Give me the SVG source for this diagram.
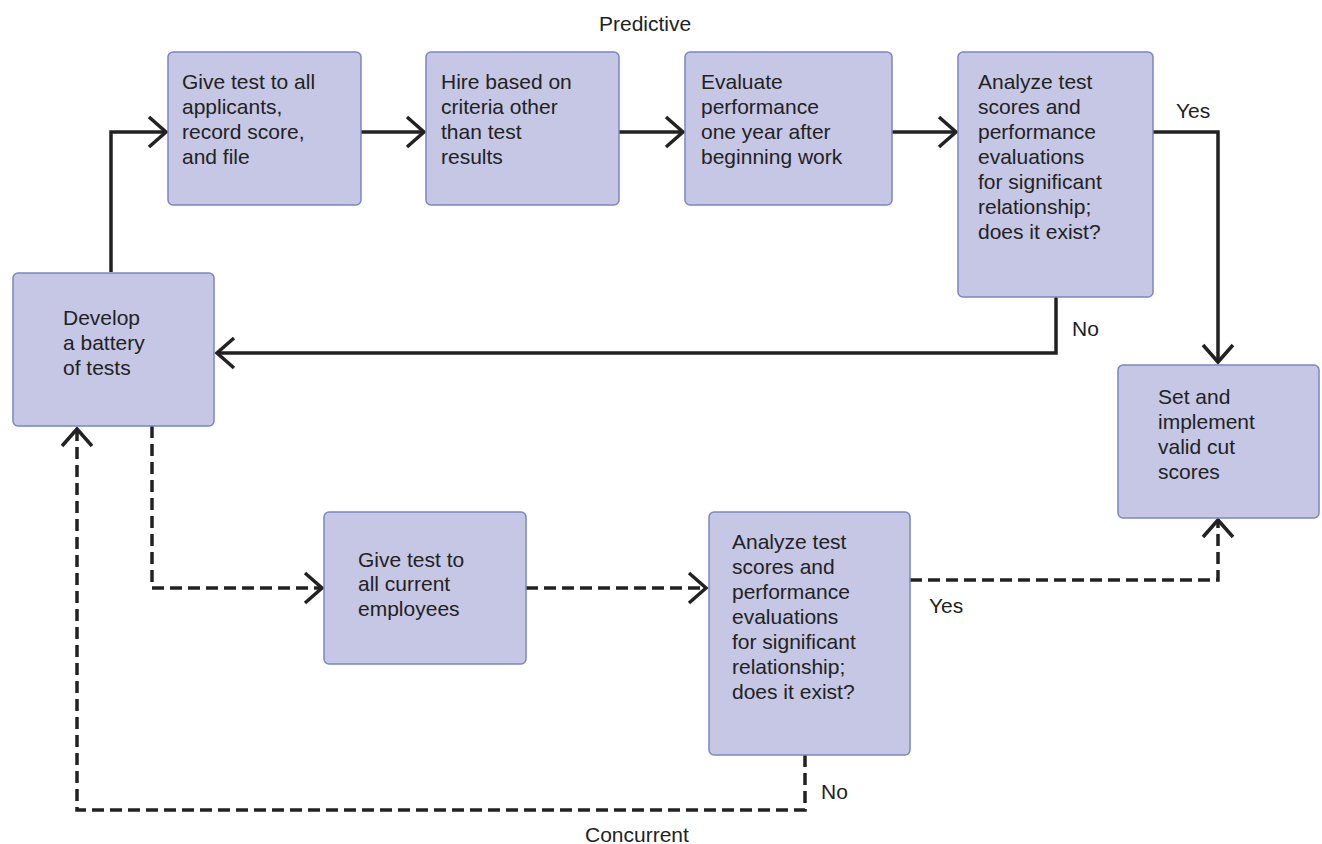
<svg xmlns="http://www.w3.org/2000/svg" width="1322" height="844" viewBox="0 0 1322 844">
<style>
.box{fill:#c5c7e5;stroke:#7e85c2;stroke-width:1.5}
text{font-family:"Liberation Sans",Arial,sans-serif;font-size:21px;fill:#222}
.c{fill:none;stroke:#222;stroke-width:3.5}
.d{stroke-dasharray:12 6}
</style>
<defs>
<marker id="ah" markerUnits="userSpaceOnUse" markerWidth="40" markerHeight="40" viewBox="-20 -20 40 40" refX="0" refY="0" orient="auto">
<path d="M-17,-15 L0,0 L-17,15" fill="none" stroke="#222" stroke-width="3.5" stroke-dasharray="none"/>
</marker>
</defs>
<rect width="1322" height="844" fill="#fff"/>
<g id="connectors">
<path class="c" d="M111,272 V132 H166" marker-end="url(#ah)"/>
<path class="c" d="M361,132 H424" marker-end="url(#ah)"/>
<path class="c" d="M619,132 H683" marker-end="url(#ah)"/>
<path class="c" d="M892,132 H956" marker-end="url(#ah)"/>
<path class="c" d="M1153,132 H1218 V362" marker-end="url(#ah)"/>
<path class="c" d="M1056,297 V353 H217" marker-end="url(#ah)"/>
<path class="c d" d="M152,426 V588 H322" marker-end="url(#ah)"/>
<path class="c d" d="M526,588 H706" marker-end="url(#ah)"/>
<path class="c d" d="M910,580 H1218 V520" marker-end="url(#ah)"/>
<path class="c d" d="M805,755 V810 H77 V429" marker-end="url(#ah)"/>
</g>
<g id="labels">
<text x="599" y="31">Predictive</text>
<text x="1176" y="118">Yes</text>
<text x="1072" y="336">No</text>
<text x="929" y="613">Yes</text>
<text x="821" y="799">No</text>
<text x="585" y="842">Concurrent</text>
</g>
<g id="give-test-applicants">
<rect class="box" x="168" y="52" width="193" height="153" rx="5"/>
<text x="182" y="89">Give test to all</text>
<text x="182" y="114">applicants,</text>
<text x="182" y="139">record score,</text>
<text x="182" y="164">and file</text>
</g>
<g id="hire">
<rect class="box" x="426" y="52" width="193" height="153" rx="5"/>
<text x="441" y="89">Hire based on</text>
<text x="441" y="114">criteria other</text>
<text x="441" y="139">than test</text>
<text x="441" y="164">results</text>
</g>
<g id="evaluate">
<rect class="box" x="685" y="52" width="207" height="153" rx="5"/>
<text x="701" y="89">Evaluate</text>
<text x="701" y="114">performance</text>
<text x="701" y="139">one year after</text>
<text x="701" y="164">beginning work</text>
</g>
<g id="analyze-predictive">
<rect class="box" x="958" y="52" width="195" height="245" rx="5"/>
<text x="978" y="89">Analyze test</text>
<text x="978" y="114">scores and</text>
<text x="978" y="139">performance</text>
<text x="978" y="164">evaluations</text>
<text x="978" y="189">for significant</text>
<text x="978" y="214">relationship;</text>
<text x="978" y="239">does it exist?</text>
</g>
<g id="develop">
<rect class="box" x="13" y="273" width="201" height="153" rx="5"/>
<text x="63" y="325">Develop</text>
<text x="63" y="350">a battery</text>
<text x="63" y="375">of tests</text>
</g>
<g id="set-cut-scores">
<rect class="box" x="1118" y="365" width="201" height="153" rx="5"/>
<text x="1158" y="404">Set and</text>
<text x="1158" y="429">implement</text>
<text x="1158" y="454">valid cut</text>
<text x="1158" y="479">scores</text>
</g>
<g id="give-test-employees">
<rect class="box" x="324" y="512" width="202" height="152" rx="5"/>
<text x="358" y="567">Give test to</text>
<text x="358" y="591">all current</text>
<text x="358" y="616">employees</text>
</g>
<g id="analyze-concurrent">
<rect class="box" x="709" y="512" width="201" height="243" rx="5"/>
<text x="732" y="549">Analyze test</text>
<text x="732" y="574">scores and</text>
<text x="732" y="599">performance</text>
<text x="732" y="624">evaluations</text>
<text x="732" y="649">for significant</text>
<text x="732" y="674">relationship;</text>
<text x="732" y="699">does it exist?</text>
</g>
</svg>
